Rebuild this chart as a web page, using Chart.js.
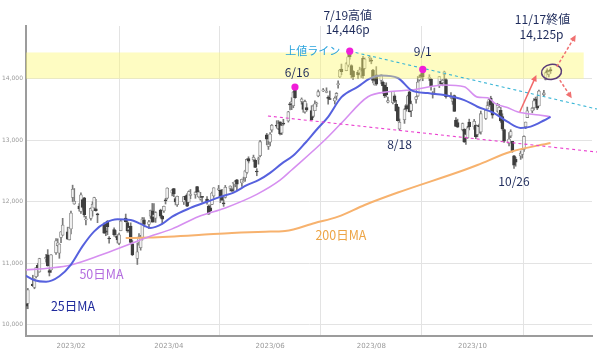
<!DOCTYPE html>
<html>
<head>
<meta charset="utf-8">
<script src="https://cdn.jsdelivr.net/npm/chart.js@4.4.0/dist/chart.umd.min.js"></script>
<style>
  html, body { margin: 0; padding: 0; background: #fff; }
  #wrap { width: 600px; height: 353px; }
</style>
</head>
<body>
<div id="wrap"><canvas id="chart" width="600" height="353"></canvas></div>
<script>
// trading days shown (2023), by month
var tradingDays = {
  1:  [4,5,6,9,10,11,12,13,17,18,19,20,23,24,25,26,27,30,31],
  2:  [1,2,3,6,7,8,9,10,13,14,15,16,17,21,22,23,24,27,28],
  3:  [1,2,3,6,7,8,9,10,13,14,15,16,17,20,21,22,23,24,27,28,29,30,31],
  4:  [3,4,5,6,10,11,12,13,14,17,18,19,20,21,24,25,26,27,28],
  5:  [1,2,3,4,5,8,9,10,11,12,15,16,17,18,19,22,23,24,25,26,30,31],
  6:  [1,2,5,6,7,8,9,12,13,14,15,16,20,21,22,23,26,27,28,29,30],
  7:  [3,5,6,7,10,11,12,13,14,17,18,19,20,21,24,25,26,27,28,31],
  8:  [1,2,3,4,7,8,9,10,11,14,15,16,17,18,21,22,23,24,25,28,29,30,31],
  9:  [1,5,6,7,8,11,12,13,14,15,18,19,20,21,22,25,26,27,28,29],
  10: [2,3,4,5,6,9,10,11,12,13,16,17,18,19,20,23,24,25,26,27,30,31],
  11: [1,2,3,6,7,8,9,10,13,14,15,16,17]
};

var opens = [
  10450,10390,10350,10662,10610,10784,10967,10861,11070,11137,10881,10894,11171,11289,11164,11422,11458,11512,11382,
  11558,12070,11965,11932,11842,12034,12066,11706,11728,11850,11900,11885,11806,11636,11528,11684,11410,11549,11440,
  11438,11325,11531,11737,11661,11548,11607,11317,11080,11342,11254,11407,11705,11632,11766,11853,11759,11734,11865,11766,11852,12032,12058,
  12142,12213,12050,11953,11998,12090,12114,11994,12105,12113,12247,12080,12044,12074,12045,11929,11903,11957,12095,
  12196,12189,12076,11972,12072,12219,12194,12300,12276,12357,12307,12325,12391,12475,12702,12683,12673,12499,12686,12747,13088,12898,
  12967,13165,13244,13185,13298,13116,13278,13312,13582,13597,13562,13828,13629,13612,13459,13529,13481,13388,13481,13588,13718,
  13801,13778,13681,13668,13639,13715,13902,14029,14157,14131,14217,14397,14213,14123,14108,14097,14041,14330,14165,14335,
  14287,14141,13899,14063,13970,13939,13894,13858,13618,13609,13720,13584,13539,13183,13334,13561,13573,13785,13481,13663,13717,13977,14065,
  14118,14003,13994,13764,13747,13892,13957,13934,14067,13986,13695,13631,13723,13328,13287,13172,13180,13042,13037,13294,
  13217,13245,13094,13228,13133,13355,13508,13622,13686,13594,13470,13440,13486,13384,13172,12947,13067,12981,12747,12688,12745,12769,
  12849,13221,13368,13474,13528,13657,13648,13555,13737,13986,14131,14072,14146
];
var highs = [
  10531,10393,10593,10807,10751,10932,11001,11083,11147,11223,10924,11143,11403,11399,11316,11517,11731,11588,11586,
  11850,12270,12215,11971,12145,12045,12072,11765,11903,12000,12074,12040,11815,11657,11572,11695,11436,11578,11534,
  11465,11493,11699,11801,11700,11592,11658,11371,11331,11483,11455,11745,11745,11697,11865,11973,11972,11838,11880,11778,11931,12056,12227,
  12204,12220,12074,12092,12085,12098,12135,12177,12200,12163,12250,12179,12154,12085,12084,11949,11951,12157,12229,
  12266,12192,12203,12029,12266,12259,12221,12317,12349,12365,12367,12400,12513,12698,12731,12758,12697,12538,12728,12997,13111,12983,
  13125,13255,13317,13319,13300,13250,13340,13469,13616,13690,13794,13864,13687,13625,13650,13594,13561,13572,13640,13618,13816,
  13840,13851,13721,13800,13705,13773,13963,14151,14237,14262,14398,14446,14225,14129,14136,14186,14166,14364,14336,14368,
  14332,14150,14013,14195,14064,13961,13895,13933,13701,13789,13739,13648,13546,13345,13513,13584,13734,13797,13636,13714,14035,14057,14086,
  14149,14064,14000,13790,13847,14034,13981,13986,14122,14002,13772,13693,13734,13369,13342,13279,13186,13100,13227,13342,
  13338,13250,13240,13262,13474,13486,13623,13672,13714,13605,13600,13582,13532,13429,13181,13125,13170,12982,12756,12724,12822,12852,
  13071,13295,13538,13535,13675,13700,13708,13814,13812,14106,14160,14126,14182
];
var lows = [
  10309,10265,10263,10623,10587,10762,10795,10856,11021,10954,10795,10851,11144,11274,11082,11337,11453,11390,11380,
  11477,12004,11959,11849,11812,11879,11752,11625,11700,11766,11885,11848,11661,11488,11449,11464,11327,11443,11420,
  11331,11305,11529,11670,11505,11507,11314,11124,10982,11295,11214,11378,11590,11562,11729,11669,11673,11665,11737,11642,11828,11964,12043,
  12096,12083,11949,11925,11956,12016,11919,11993,12050,12057,12114,12071,12026,11993,11962,11797,11840,11955,12071,
  12180,11987,12022,11925,12060,12175,12164,12169,12243,12194,12249,12323,12334,12454,12630,12656,12555,12423,12611,12730,12925,12850,
  12907,13131,13196,13171,13085,13090,13242,13294,13491,13496,13527,13680,13585,13454,13439,13472,13334,13367,13479,13544,13705,
  13790,13770,13586,13660,13587,13659,13844,14018,14063,14128,14190,14316,14013,13986,14004,14083,14018,14008,14158,14278,
  14241,13932,13895,13891,13916,13758,13692,13704,13604,13588,13611,13471,13310,13162,13273,13472,13566,13459,13383,13601,13710,13959,14007,
  13966,13968,13812,13684,13741,13855,13897,13883,13987,13683,13680,13582,13468,13223,13207,13151,12963,12932,13029,13167,
  13178,13027,13055,13116,13099,13337,13507,13550,13474,13358,13460,13389,13290,13162,12963,12908,13040,12804,12543,12577,12688,12710,
  12819,13187,13368,13445,13492,13589,13496,13555,13718,13979,14063,14029,14085
];
var closes = [
  10458,10305,10569,10636,10742,10932,10931,11079,11096,10957,10852,11140,11365,11334,11313,11512,11622,11394,11585,
  11816,12201,12007,11888,12114,11910,11790,11718,11892,11960,12070,11855,11787,11492,11507,11590,11395,11467,11456,
  11379,11462,11689,11676,11530,11576,11338,11139,11189,11429,11434,11718,11631,11675,11860,11670,11787,11824,11768,11716,11926,12013,12222,
  12189,12126,11997,12088,12084,12032,11930,12167,12124,12158,12153,12157,12060,12072,11996,11799,11855,12143,12227,
  12213,12080,12025,11967,12235,12256,12180,12306,12329,12285,12366,12344,12501,12688,12658,12721,12560,12484,12698,12976,13017,12935,
  13101,13241,13230,13276,13104,13239,13259,13461,13573,13626,13782,13689,13667,13502,13630,13492,13335,13555,13592,13592,13788,
  13817,13792,13679,13661,13685,13760,13919,14138,14114,14244,14354,14358,14063,14032,14059,14145,14127,14050,14317,14346,
  14284,13973,13960,13909,14060,13885,13723,13737,13645,13789,13632,13474,13317,13291,13498,13506,13722,13464,13591,13705,13944,14020,14035,
  14031,14021,13873,13749,13762,14033,13918,13974,14112,13709,13711,13679,13469,13224,13212,13271,12972,13093,13201,13219,
  13308,13059,13236,13220,13431,13485,13563,13660,13575,13407,13568,13534,13315,13187,12984,13019,13140,12822,12596,12643,12789,12851,
  13061,13294,13478,13518,13640,13650,13521,13798,13768,14094,14103,14113,14125
];

// moving averages (date, value)
var ma25Dates = ['1/4','1/10','1/17','1/25','2/1','2/8','2/15','2/22','3/1','3/9','3/15','3/21','3/28','4/3','4/14','4/24','5/2','5/10','5/18','5/25','6/1','6/8','6/15','6/22','6/29','7/6','7/14','7/24','7/31','8/7','8/17','8/25','9/4','9/14','9/26','10/4','10/14','10/22','10/30','11/5','11/13','11/17'];
var ma25Vals  = [10810,10725,10700,10790,10980,11280,11520,11660,11715,11705,11640,11575,11640,11760,11900,12000,12080,12150,12270,12350,12470,12620,12750,12950,13170,13380,13700,13870,14000,14050,14010,13815,13765,13733,13652,13544,13440,13300,13200,13220,13320,13380];
var ma50Dates = ['1/4','1/20','2/1','2/19','3/7','3/20','4/3','4/19','5/5','5/24','6/7','6/14','7/4','7/14','7/30','8/11','8/25','9/14','9/26','10/4','10/10','10/15','10/22','10/28','11/10','11/17'];
var ma50Vals  = [10893,10925,10974,11136,11299,11433,11560,11760,11900,12120,12350,12516,13003,13279,13706,13787,13815,13896,13869,13700,13690,13590,13530,13463,13409,13382];
var ma200Dates = ['3/6','3/20','4/19','5/9','5/29','6/10','6/28','7/12','7/28','8/17','9/26','10/4','10/24','11/17'];
var ma200Vals  = [11410,11420,11461,11494,11515,11526,11656,11758,11948,12150,12516,12597,12813,12955];

var xTickDates  = ['2/1','4/1','6/1','8/1','10/1'];
var xTickLabels = ['2023/02','2023/04','2023/06','2023/08','2023/10'];
var yTicks = [10000, 11000, 12000, 13000, 14000];

var monthStart = [0,31,59,90,120,151,181,212,243,273,304,334];
function dayOf(md) {
  var p = md.split('/');
  return monthStart[+p[0] - 1] + (+p[1]) - 1;
}

var dates = [];
Object.keys(tradingDays).forEach(function (m) {
  tradingDays[m].forEach(function (d) { dates.push(m + '/' + d); });
});
var days = dates.map(dayOf);

function pts(ds, vs) {
  return ds.map(function (d, i) { return {x: dayOf(d), y: vs[i]}; });
}

var upFill = '#f0f0f0', upLine = '#858585', downFill = '#3e3e3e';

var wickData = days.map(function (d, i) { return {x: d, y: [lows[i], highs[i]]}; });
var bodyData = days.map(function (d, i) { return {x: d, y: [opens[i], closes[i]]}; });

// annotation layer
var navy = '#1f2c5c';
function px(chart, day, val) {
  return [chart.scales.x.getPixelForValue(day), chart.scales.y.getPixelForValue(val)];
}
function idx(md) { return dates.indexOf(md); }

function arrow(ctx, a, b, color, dashed) {
  ctx.save();
  ctx.strokeStyle = color;
  ctx.fillStyle = color;
  ctx.lineWidth = 1.5;
  if (dashed) ctx.setLineDash([3, 2]);
  var ang = Math.atan2(b[1] - a[1], b[0] - a[0]);
  var hx = b[0] - Math.cos(ang) * 5, hy = b[1] - Math.sin(ang) * 5;
  ctx.beginPath();
  ctx.moveTo(a[0], a[1]);
  ctx.lineTo(hx, hy);
  ctx.stroke();
  ctx.setLineDash([]);
  ctx.beginPath();
  ctx.moveTo(b[0], b[1]);
  ctx.lineTo(b[0] - Math.cos(ang - 0.45) * 7, b[1] - Math.sin(ang - 0.45) * 7);
  ctx.lineTo(b[0] - Math.cos(ang + 0.45) * 7, b[1] - Math.sin(ang + 0.45) * 7);
  ctx.closePath();
  ctx.fill();
  ctx.restore();
}

function label(ctx, text, x, y, color, size) {
  ctx.save();
  ctx.font = (size || 12) + 'px "Noto Sans CJK JP", sans-serif';
  ctx.fillStyle = color;
  ctx.textAlign = 'center';
  ctx.textBaseline = 'middle';
  ctx.fillText(text, x, y);
  ctx.restore();
}

var notes = {
  id: 'notes',
  afterDatasetsDraw: function (chart) {
    var ctx = chart.ctx, area = chart.chartArea;

    // resistance band 14,000 - 14,425
    var b1 = px(chart, 0, 14425), b2 = px(chart, 340, 14000);
    ctx.save();
    ctx.fillStyle = 'rgba(252,248,110,0.42)';
    ctx.fillRect(area.left, b1[1], b2[0] - area.left, b2[1] - b1[1]);
    ctx.restore();

    // trend lines
    ctx.save();
    ctx.lineWidth = 1.1;
    ctx.setLineDash([3, 3]);
    var c1 = px(chart, dayOf('7/19'), 14446), c2 = px(chart, 348, 13506);
    ctx.strokeStyle = '#3ab6d6';
    ctx.beginPath(); ctx.moveTo(c1[0], c1[1]); ctx.lineTo(c2[0], c2[1]); ctx.stroke();
    var p1 = px(chart, 149.7, 13393), p2 = px(chart, 348, 12808);
    ctx.strokeStyle = '#ea3fcf';
    ctx.beginPath(); ctx.moveTo(p1[0], p1[1]); ctx.lineTo(p2[0], p2[1]); ctx.stroke();
    ctx.restore();

    // highs with dots
    var h616 = px(chart, dayOf('6/16'), highs[idx('6/16')]);
    var h719 = px(chart, dayOf('7/19'), highs[idx('7/19')]);
    var h901 = px(chart, dayOf('9/1'), highs[idx('9/1')]);
    [h616, h719, h901].forEach(function (p) {
      ctx.save();
      ctx.fillStyle = '#f01ed8';
      ctx.beginPath(); ctx.arc(p[0], p[1], 3.6, 0, Math.PI * 2); ctx.fill();
      ctx.restore();
    });
    label(ctx, '6/16', h616[0] + 2, h616[1] - 15, navy);
    label(ctx, '7/19高値', h719[0] - 2, h719[1] - 36, navy);
    label(ctx, '14,446p', h719[0] - 2, h719[1] - 22, navy);
    label(ctx, '上値ライン', h719[0] - 37, h719[1], '#2aa3dc', 11);
    label(ctx, '9/1', h901[0], h901[1] - 18, navy);

    var l818 = px(chart, dayOf('8/18'), lows[idx('8/18')]);
    label(ctx, '8/18', l818[0], l818[1] + 14, navy);
    var l1026 = px(chart, dayOf('10/26'), lows[idx('10/26')]);
    label(ctx, '10/26', l1026[0], l1026[1] + 13, navy);

    // latest close
    var c1117 = px(chart, dayOf('11/17'), closes[idx('11/17')]);
    label(ctx, '11/17終値', c1117[0] - 8, c1117[1] - 52, navy);
    label(ctx, '14,125p', c1117[0] - 9, c1117[1] - 37, navy);
    ctx.save();
    ctx.strokeStyle = '#5a3c78';
    ctx.lineWidth = 1.5;
    ctx.beginPath();
    ctx.ellipse(c1117[0] + 1, c1117[1] + 1, 10, 7.5, -0.15, 0, Math.PI * 2);
    ctx.stroke();
    ctx.restore();

    arrow(ctx, px(chart, 301.5, 13463), px(chart, 311.5, 14058), '#f26a6a', false);
    arrow(ctx, px(chart, 323.8, 14193), px(chart, 335.2, 14708), '#f07070', true);
    arrow(ctx, px(chart, 325.6, 13977), px(chart, 332.8, 13680), '#f07070', true);

    // moving average names
    var t50 = px(chart, 49.4, 10828), t25 = px(chart, 32.2, 10297), t200 = px(chart, 193.7, 11461);
    label(ctx, '50日MA', t50[0], t50[1], '#b46ddf', 12.5);
    label(ctx, '25日MA', t25[0], t25[1], '#1f2a9c', 12.5);
    label(ctx, '200日MA', t200[0], t200[1], '#eda546', 12.5);
  }
};

new Chart(document.getElementById('chart'), {
  type: 'bar',
  data: {
    datasets: [
      {
        type: 'line', label: '25日MA', data: pts(ma25Dates, ma25Vals),
        borderColor: '#5661de', borderWidth: 2, pointRadius: 0,
        cubicInterpolationMode: 'monotone', order: 0
      },
      {
        type: 'line', label: '50日MA', data: pts(ma50Dates, ma50Vals),
        borderColor: '#d68ff0', borderWidth: 1.6, pointRadius: 0,
        cubicInterpolationMode: 'monotone', order: 0
      },
      {
        type: 'line', label: '200日MA', data: pts(ma200Dates, ma200Vals),
        borderColor: '#f7b26e', borderWidth: 2, pointRadius: 0,
        cubicInterpolationMode: 'monotone', order: 0
      },
      {
        label: 'body', data: bodyData, grouped: false, order: 1,
        barThickness: 3, minBarLength: 1, borderWidth: 0.8, borderSkipped: false,
        backgroundColor: bodyData.map(function (p) { return p.y[1] >= p.y[0] ? upFill : downFill; }),
        borderColor: bodyData.map(function (p) { return p.y[1] >= p.y[0] ? upLine : downFill; })
      },
      {
        label: 'wick', data: wickData, grouped: false, order: 2,
        barThickness: 1, backgroundColor: '#7a7a7a'
      }
    ]
  },
  options: {
    responsive: false,
    animation: false,
    layout: { padding: { top: 26, right: 8, left: 0, bottom: 0 } },
    plugins: {
      legend: { display: false },
      tooltip: { enabled: false }
    },
    scales: {
      x: {
        type: 'linear', min: 3.9, max: 345, offset: false,
        afterBuildTicks: function (s) { s.ticks = xTickDates.map(function (d) { return {value: dayOf(d)}; }); },
        afterFit: function (s) { s.height = 17; },
        ticks: {
          autoSkip: false, maxRotation: 0, padding: 6, color: '#9a9a9a',
          font: { size: 7, family: 'DejaVu Sans' },
          callback: function (v, i) { return xTickLabels[i]; }
        },
        grid: { color: '#e3e3e3', drawTicks: false },
        border: { color: '#9c9c9c', width: 2 }
      },
      y: {
        min: 9820, max: 14855,
        afterBuildTicks: function (s) { s.ticks = yTicks.map(function (v) { return {value: v}; }); },
        afterFit: function (s) { s.width = 26; },
        ticks: {
          padding: 3, color: '#9a9a9a',
          font: { size: 6, family: 'DejaVu Sans' },
          callback: function (v) { return v.toLocaleString('en-US'); }
        },
        grid: { color: '#e3e3e3', drawTicks: false },
        border: { color: '#9c9c9c', width: 2 }
      }
    }
  },
  plugins: [notes]
});
</script>
</body>
</html>
